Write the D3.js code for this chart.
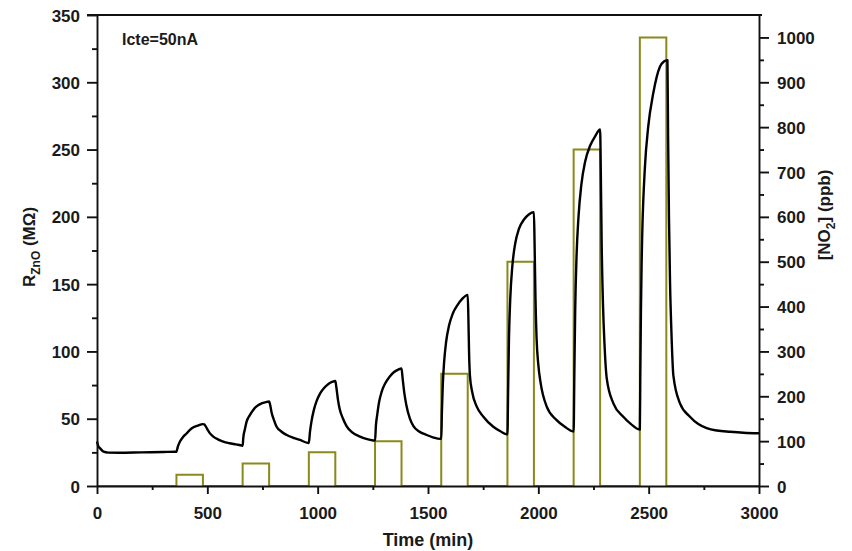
<!DOCTYPE html>
<html>
<head>
<meta charset="utf-8">
<script src="https://cdn.jsdelivr.net/npm/d3@7"></script>
<style>
  body { margin: 0; background: #fff; }
  svg { display: block; }
  text { font-family: "Liberation Sans", Arial, sans-serif; font-weight: bold; fill: #1a1a1a; }
</style>
</head>
<body>
<svg id="chart" width="852" height="551"></svg>
<script>
// ZnO sensor resistance (MΩ) vs time (min), constant bias current 50 nA
const timeMin = [
  0, 5, 14, 30, 50, 100, 200, 300, 355,
  360, 366, 376, 390, 406, 420, 437, 460, 478,
  486, 492, 499, 510, 527, 550, 572, 600, 630, 658,
  660, 663, 670, 678, 692, 708, 726, 746, 765, 780,
  785, 792, 802, 814, 835, 860, 890, 920, 958,
  960, 965, 972, 982, 995, 1012, 1030, 1050, 1065, 1080,
  1085, 1092, 1100, 1115, 1131, 1155, 1192, 1220, 1252,
  1260, 1264, 1270, 1278, 1290, 1305, 1325, 1345, 1365, 1380,
  1385, 1392, 1402, 1418, 1434, 1460, 1494, 1525, 1556,
  1560, 1563, 1567, 1573, 1582, 1595, 1612, 1632, 1655, 1680,
  1683, 1686, 1690, 1700, 1721, 1751, 1796, 1830, 1857,
  1860, 1863, 1867, 1873, 1882, 1895, 1912, 1935, 1958, 1980,
  1983, 1987, 1992, 2000, 2010, 2038, 2083, 2120, 2159,
  2160, 2163, 2167, 2173, 2182, 2195, 2212, 2235, 2258, 2280,
  2283, 2287, 2293, 2300, 2310, 2340, 2385, 2420, 2458,
  2460, 2462, 2465, 2468, 2471, 2483, 2498, 2521, 2551, 2569, 2585,
  2588, 2592, 2597, 2603, 2612, 2642, 2687, 2725, 2763, 2810, 2869, 2930, 3000
];
const resistance = [
  33, 30, 28, 25.5, 24.8, 24.7, 25, 25.3, 25.5,
  25.5, 29, 33, 36.5, 39, 41.5, 43.6, 45, 46,
  45.8, 44.5, 42.5, 39.5, 36.7, 34.5, 33, 31.8, 30.9, 30,
  29.8, 36, 42, 47.8, 52.5, 56.5, 59.5, 61.4, 62.3, 62.8,
  60, 54, 49, 44, 40.5, 37.9, 35.8, 34.2, 32,
  32, 40, 48, 56, 63, 69, 73, 76, 77.3, 78,
  73, 64, 57, 50, 44.5, 40, 36.7, 35, 33.8,
  33.7, 45, 53, 62, 70, 76, 81, 84.5, 86.5, 87.3,
  80, 70, 60, 50, 44.5, 40.5, 37.9, 36, 35,
  35, 55, 75, 92, 107, 119, 128, 134, 139, 142,
  125, 100, 82, 70, 59, 51.5, 44, 40.5, 38.5,
  38.5, 70, 110, 140, 163, 180, 191, 198, 202, 203.5,
  180, 140, 110, 90, 77, 59, 49, 44, 40.5,
  40.5, 80, 130, 170, 200, 224, 241, 253, 260, 265,
  235, 180, 135, 105, 80, 61.4, 51.5, 46, 42,
  42, 80, 130, 165, 188, 237, 267, 292, 311.6, 315.5, 316.5,
  260, 200, 150, 115, 82, 61.4, 51.5, 46, 43, 41.2, 40.3, 39.6, 39.2
];

// NO2 exposure pulses
const exposureStart = [360, 660, 960, 1260, 1560, 1860, 2160, 2460];
const exposureEnd   = [480, 780, 1080, 1380, 1680, 1980, 2280, 2580];
const no2Ppb        = [25, 50, 75, 100, 250, 500, 750, 1000];

// Axis ticks
const timeTicks = [0, 500, 1000, 1500, 2000, 2500, 3000];
const timeMinorTicks = [250, 750, 1250, 1750, 2250, 2750];
const resTicks = [0, 50, 100, 150, 200, 250, 300, 350];
const resMinorTicks = [25, 75, 125, 175, 225, 275, 325];
const no2Ticks = [0, 100, 200, 300, 400, 500, 600, 700, 800, 900, 1000];
const no2MinorTicks = [50, 150, 250, 350, 450, 550, 650, 750, 850, 950];

const svg = d3.select("#chart");
const plotL = 97, plotR = 759, plotT = 15, plotB = 486;

const x = d3.scaleLinear().domain([0, 3000]).range([plotL, plotR]);
const yR = d3.scaleLinear().domain([0, 350]).range([plotB, plotT]);
const yC = d3.scaleLinear().domain([0, 1050]).range([plotB, plotT]);

const axisColor = "#111";
const axisWidth = 1.9;
const fmt = d3.format("d");

// NO2 concentration as a step trace
const stepPts = [[0, 0]];
exposureStart.forEach((s, i) => {
  stepPts.push([s, 0], [s, no2Ppb[i]], [exposureEnd[i], no2Ppb[i]], [exposureEnd[i], 0]);
});
stepPts.push([3000, 0]);
svg.append("path")
  .datum(stepPts)
  .attr("fill", "none")
  .attr("stroke", "#8a8a1a")
  .attr("stroke-width", 2)
  .attr("stroke-linejoin", "miter")
  .attr("d", d3.line().x(d => x(d[0])).y(d => yC(d[1])));

// Resistance trace
const rPts = timeMin.map((t, i) => [t, resistance[i]]);
svg.append("path")
  .datum(rPts)
  .attr("fill", "none")
  .attr("stroke", "#000")
  .attr("stroke-width", 2.4)
  .attr("stroke-linejoin", "round")
  .attr("d", d3.line().curve(d3.curveMonotoneX).x(d => x(d[0])).y(d => yR(d[1])));

function styleAxis(g) {
  g.selectAll("path, line").attr("stroke", axisColor).attr("stroke-width", axisWidth);
  g.selectAll("text").style("font-size", "17px").attr("fill", "#1a1a1a");
}

// Bottom axis
const gx = svg.append("g").attr("transform", `translate(0,${plotB})`)
  .call(d3.axisBottom(x).tickValues(timeTicks).tickFormat(fmt).tickSize(8).tickSizeOuter(0));
gx.call(styleAxis);
gx.selectAll("text").attr("y", 33).attr("dy", null);
svg.append("g").attr("transform", `translate(0,${plotB})`)
  .call(d3.axisBottom(x).tickValues(timeMinorTicks).tickSize(4).tickFormat(""))
  .call(g => g.select(".domain").remove())
  .call(styleAxis);

// Left axis
const gl = svg.append("g").attr("transform", `translate(${plotL},0)`)
  .call(d3.axisLeft(yR).tickValues(resTicks).tickFormat(fmt).tickSize(10).tickSizeOuter(0));
gl.call(styleAxis);
gl.selectAll("text").attr("x", -17).attr("dy", "0.36em");
svg.append("g").attr("transform", `translate(${plotL},0)`)
  .call(d3.axisLeft(yR).tickValues(resMinorTicks).tickSize(5).tickFormat(""))
  .call(g => g.select(".domain").remove())
  .call(styleAxis);

// Right axis
const gr = svg.append("g").attr("transform", `translate(${plotR},0)`)
  .call(d3.axisRight(yC).tickValues(no2Ticks).tickFormat(fmt).tickSize(10).tickSizeOuter(0));
gr.call(styleAxis);
gr.selectAll("text").attr("x", 18).attr("dy", "0.36em");
svg.append("g").attr("transform", `translate(${plotR},0)`)
  .call(d3.axisRight(yC).tickValues(no2MinorTicks).tickSize(5).tickFormat(""))
  .call(g => g.select(".domain").remove())
  .call(styleAxis);

// Top frame
svg.append("line")
  .attr("x1", plotL - 10).attr("x2", plotR + 3)
  .attr("y1", plotT).attr("y2", plotT)
  .attr("stroke", axisColor).attr("stroke-width", axisWidth);

// Axis titles
svg.append("text")
  .attr("x", (plotL + plotR) / 2).attr("y", 546)
  .attr("text-anchor", "middle").style("font-size", "18px")
  .text("Time (min)");

const lt = svg.append("text")
  .attr("transform", "translate(35,247) rotate(-90)")
  .attr("text-anchor", "middle").style("font-size", "17px");
lt.append("tspan").text("R");
lt.append("tspan").attr("dy", 5).style("font-size", "12px").text("ZnO");
lt.append("tspan").attr("dy", -5).text(" (M\u03A9)");

const rt = svg.append("text")
  .attr("transform", "translate(830,215) rotate(-90)")
  .attr("text-anchor", "middle").style("font-size", "17px");
rt.append("tspan").text("[NO");
rt.append("tspan").attr("dy", 5).style("font-size", "12px").text("2");
rt.append("tspan").attr("dy", -5).text("] (ppb)");

// Annotation
svg.append("text")
  .attr("x", 122).attr("y", 45)
  .style("font-size", "16px")
  .text("Icte=50nA");
</script>
</body>
</html>
